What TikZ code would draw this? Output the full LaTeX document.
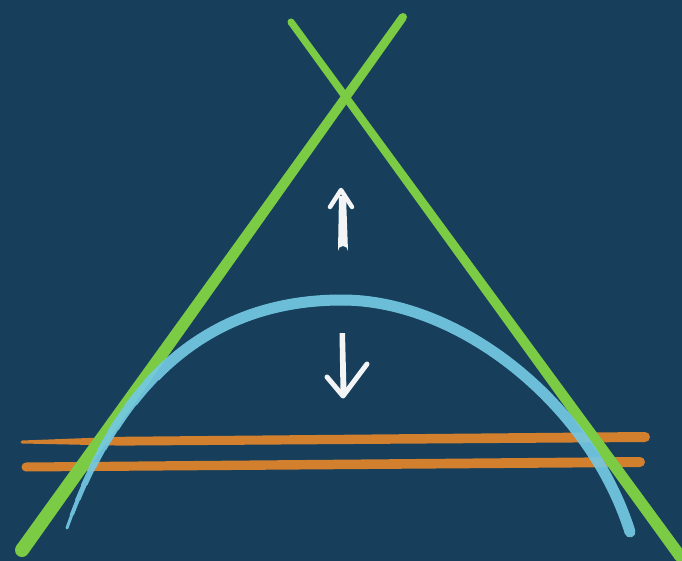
\documentclass[tikz,border=0pt]{standalone}
\definecolor{bg}{HTML}{173F5B}
\definecolor{grn}{HTML}{7BCB45}
\definecolor{blu}{HTML}{74C9E3}
\definecolor{org}{HTML}{D27F2E}
\definecolor{wht}{HTML}{F2F4F6}
\tikzset{
  blustroke/.style={draw=blu, line cap=round, line join=round},
  whtstroke/.style={draw=wht, line cap=round, line join=round},
}
\def\arcpath{(67,528) .. controls (122,373) and (215,300) .. (342,300) .. controls (460,300) and (590,404) .. (630,532)}
\begin{document}
\begin{tikzpicture}[x=1pt,y=-1pt]
\fill[bg] (0,0) rectangle (682,561);
\useasboundingbox (0,0) rectangle (682,561);
% orange lines (tapered)
\fill[org] (22,440.5) -- (120,436.8) -- (645,432) arc[start angle=-90,end angle=90,radius=5] -- (120,445.6) -- (22,443.5) arc[start angle=90,end angle=270,radius=1.5] -- cycle;
\fill[org] (26,462.5) -- (640,457) arc[start angle=-90,end angle=90,radius=5] -- (26,471.5) arc[start angle=90,end angle=270,radius=4.5] -- cycle;
% green lines (tapered)
\fill[grn] (27.7,554.1) -- (406.3,19.6) -- (399.7,14.4) -- (16.3,545.9) -- cycle;
\fill[grn] (22,550) circle[radius=7];
\fill[grn] (403,17) circle[radius=4];
\fill[grn] (293.8,19.9) -- (684.8,552.5) -- (675.2,559.5) -- (288.2,24.1) -- cycle;
\fill[grn] (291,22) circle[radius=3.5];
\fill[grn] (680,556) circle[radius=6];
% blue arc (tapered at left end)
\begin{scope}[opacity=0.92, transparency group]
\draw[blustroke, line width=3] \arcpath;
\foreach \w/\th in {4/515,5/500,6/485,7/468,8/450,9/430,10/405,11/380}{
  \begin{scope}
  \clip (0,0) rectangle (682,\th) (250,\th) rectangle (682,561);
  \draw[blustroke, line width=\w] \arcpath;
  \end{scope}
}
\end{scope}
% white arrows
\fill[wht] (339,196) -- (338,251) arc[start angle=180,end angle=360,radius=5] -- (346,196) -- cycle;
\draw[whtstroke, line width=4.5] (330,207) -- (341,190) -- (352,207);
\fill[wht] (339.5,333) -- (340.5,392) -- (346.5,392) -- (345,333) -- cycle;
\draw[whtstroke, line width=5] (327,377) -- (343,396) -- (367,364);
\end{tikzpicture}
\end{document}
